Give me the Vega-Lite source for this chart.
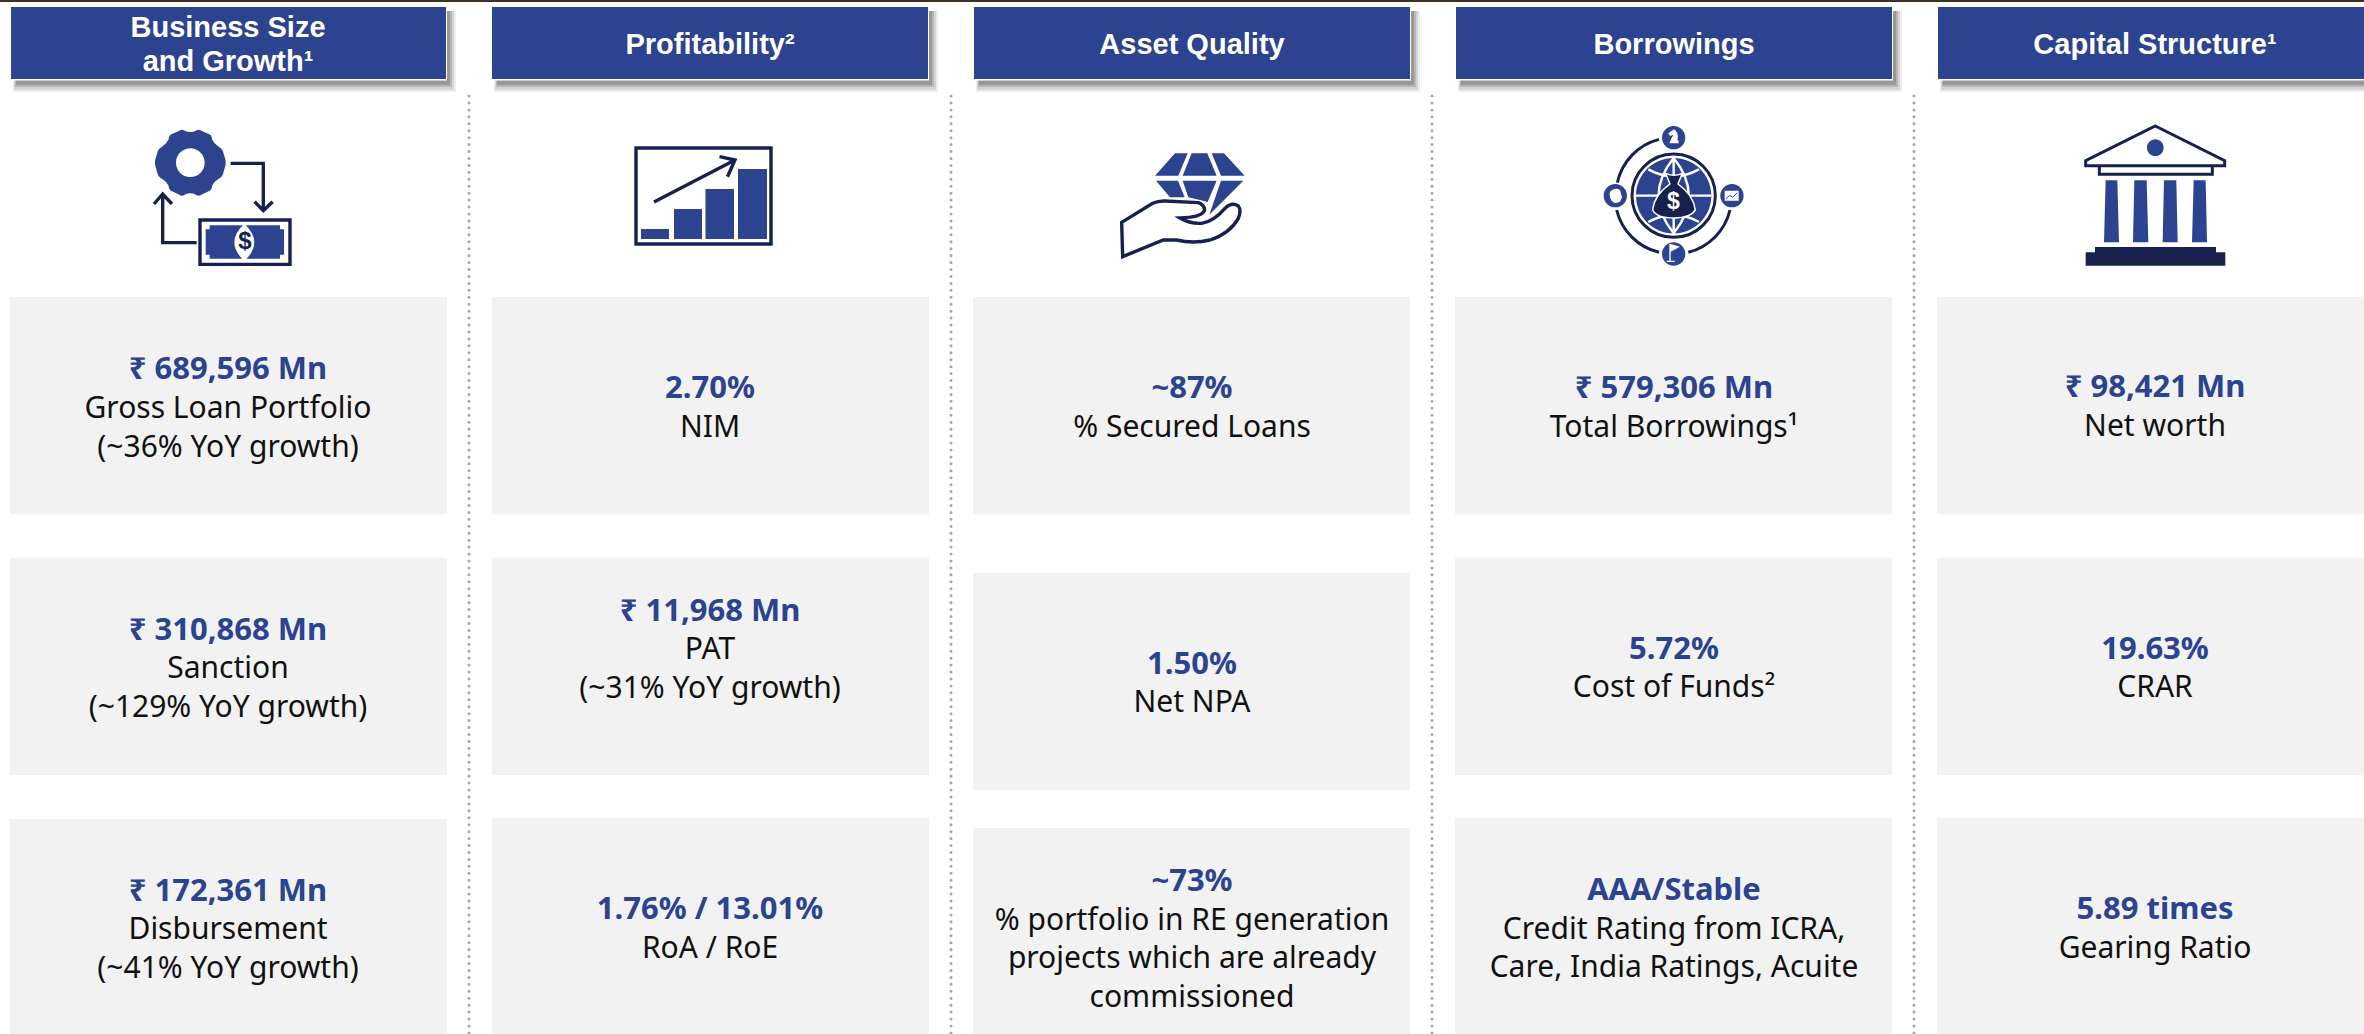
{
"$schema":"https://vega.github.io/schema/vega-lite/v6.json",
"width":2364,"height":1034,"padding":0,"autosize":{"type":"none"},"background":"#ffffff",
"view":{"stroke":null},
"config":{"axis":{"grid":false}},
"datasets":{
"strip":[{"x":0,"x2":2364,"y":0,"y2":2}],
"headers":[
{"name":"Business Size and Growth","x":11,"x2":446,"y":7,"y2":79},
{"name":"Profitability","x":492,"x2":928,"y":7,"y2":79},
{"name":"Asset Quality","x":974,"x2":1410,"y":7,"y2":79},
{"name":"Borrowings","x":1456,"x2":1892,"y":7,"y2":79},
{"name":"Capital Structure","x":1938,"x2":2364,"y":7,"y2":79}],
"dividers":[{"x":469,"y":96,"y2":1034},{"x":951,"y":96,"y2":1034},{"x":1432,"y":96,"y2":1034},{"x":1914,"y":96,"y2":1034}],
"cards":[
{"x":10,"x2":447,"y":297,"y2":514},{"x":10,"x2":447,"y":558,"y2":775},{"x":10,"x2":447,"y":819,"y2":1034},
{"x":492,"x2":929,"y":297,"y2":514},{"x":492,"x2":929,"y":558,"y2":775},{"x":492,"x2":929,"y":818,"y2":1034},
{"x":973,"x2":1410,"y":297,"y2":514},{"x":973,"x2":1410,"y":573,"y2":790},{"x":973,"x2":1410,"y":828,"y2":1034},
{"x":1455,"x2":1892,"y":297,"y2":514},{"x":1455,"x2":1892,"y":558,"y2":775},{"x":1455,"x2":1892,"y":818,"y2":1034},
{"x":1937,"x2":2364,"y":297,"y2":514},{"x":1937,"x2":2364,"y":558,"y2":775},{"x":1937,"x2":2364,"y":818,"y2":1034}],
"texts":[
{"role":"header","t":"Business Size","x":228,"y":27},
{"role":"header","t":"and Growth¹","x":228,"y":61},
{"role":"header","t":"Profitability²","x":710,"y":44},
{"role":"header","t":"Asset Quality","x":1192,"y":44},
{"role":"header","t":"Borrowings","x":1674,"y":44},
{"role":"header","t":"Capital Structure¹","x":2155,"y":44},
{"role":"value","t":"₹ 689,596 Mn","x":228,"y":368},
{"role":"label","t":"Gross Loan Portfolio","x":228,"y":407},
{"role":"label","t":"(~36% YoY growth)","x":228,"y":446},
{"role":"value","t":"₹ 310,868 Mn","x":228,"y":629},
{"role":"label","t":"Sanction","x":228,"y":667},
{"role":"label","t":"(~129% YoY growth)","x":228,"y":706},
{"role":"value","t":"₹ 172,361 Mn","x":228,"y":890},
{"role":"label","t":"Disbursement","x":228,"y":928},
{"role":"label","t":"(~41% YoY growth)","x":228,"y":967},
{"role":"value","t":"2.70%","x":710,"y":387},
{"role":"label","t":"NIM","x":710,"y":426},
{"role":"value","t":"₹ 11,968 Mn","x":710,"y":610},
{"role":"label","t":"PAT","x":710,"y":648},
{"role":"label","t":"(~31% YoY growth)","x":710,"y":687},
{"role":"value","t":"1.76% / 13.01%","x":710,"y":908},
{"role":"label","t":"RoA / RoE","x":710,"y":947},
{"role":"value","t":"~87%","x":1192,"y":387},
{"role":"label","t":"% Secured Loans","x":1192,"y":426},
{"role":"value","t":"1.50%","x":1192,"y":663},
{"role":"label","t":"Net NPA","x":1192,"y":701},
{"role":"value","t":"~73%","x":1192,"y":880},
{"role":"label","t":"% portfolio in RE generation","x":1192,"y":919},
{"role":"label","t":"projects which are already","x":1192,"y":957},
{"role":"label","t":"commissioned","x":1192,"y":996},
{"role":"value","t":"₹ 579,306 Mn","x":1674,"y":387},
{"role":"label","t":"Total Borrowings¹","x":1674,"y":426},
{"role":"value","t":"5.72%","x":1674,"y":648},
{"role":"label","t":"Cost of Funds²","x":1674,"y":686},
{"role":"value","t":"AAA/Stable","x":1674,"y":889},
{"role":"label","t":"Credit Rating from ICRA,","x":1674,"y":928},
{"role":"label","t":"Care, India Ratings, Acuite","x":1674,"y":966},
{"role":"value","t":"₹ 98,421 Mn","x":2155,"y":386},
{"role":"label","t":"Net worth","x":2155,"y":425},
{"role":"value","t":"19.63%","x":2155,"y":648},
{"role":"label","t":"CRAR","x":2155,"y":686},
{"role":"value","t":"5.89 times","x":2155,"y":908},
{"role":"label","t":"Gearing Ratio","x":2155,"y":947},
{"role":"billSign","t":"$","x":245,"y":242},
{"role":"bagSign","t":"$","x":1673.5,"y":202}
],
"icons":[
{"icon":"growth","x":140,"y":120},
{"icon":"profit","x":634,"y":146},
{"icon":"quality","x":1110,"y":140},
{"icon":"borrow","x":1600,"y":120},
{"icon":"capital","x":2070,"y":120}]
},
"encoding":{
"x":{"field":"x","type":"quantitative","axis":null,"scale":{"domain":[0,2364],"nice":false,"zero":false}},
"y":{"field":"y","type":"quantitative","axis":null,"scale":{"domain":[1034,0],"nice":false,"zero":false}}
},
"layer":[
{"data":{"name":"strip"},"mark":{"type":"rect","fill":"#3b3320"},"encoding":{"x2":{"field":"x2"},"y2":{"field":"y2"}}},
{"data":{"name":"headers"},"mark":{"type":"rect","fill":"#000000","opacity":0.07,"xOffset":2,"x2Offset":10,"yOffset":4,"y2Offset":13},"encoding":{"x2":{"field":"x2"},"y2":{"field":"y2"}}},
{"data":{"name":"headers"},"mark":{"type":"rect","fill":"#000000","opacity":0.1,"xOffset":3,"x2Offset":8,"yOffset":4,"y2Offset":11},"encoding":{"x2":{"field":"x2"},"y2":{"field":"y2"}}},
{"data":{"name":"headers"},"mark":{"type":"rect","fill":"#000000","opacity":0.14,"xOffset":4,"x2Offset":6,"yOffset":4,"y2Offset":8},"encoding":{"x2":{"field":"x2"},"y2":{"field":"y2"}}},
{"data":{"name":"headers"},"mark":{"type":"rect","fill":"#000000","opacity":0.16,"xOffset":5,"x2Offset":4,"yOffset":4,"y2Offset":6},"encoding":{"x2":{"field":"x2"},"y2":{"field":"y2"}}},
{"data":{"name":"headers"},"mark":{"type":"rect","fill":"#ffffff","xOffset":0,"x2Offset":1,"yOffset":0,"y2Offset":1.5},"encoding":{"x2":{"field":"x2"},"y2":{"field":"y2"}}},
{"data":{"name":"headers"},"mark":{"type":"rect","fill":"#2c4390"},"encoding":{"x2":{"field":"x2"},"y2":{"field":"y2"}}},
{"data":{"name":"dividers"},"mark":{"type":"rule","stroke":"#a6a6a6","strokeWidth":3,"strokeCap":"round","strokeDash":[0.01,6.93]},"encoding":{"y2":{"field":"y2"}}},
{"data":{"name":"cards"},"mark":{"type":"rect","fill":"#f2f2f2"},"encoding":{"x2":{"field":"x2"},"y2":{"field":"y2"}}},

{"data":{"name":"icons"},"transform":[{"filter":"datum.icon=='growth'"}],"mark":{"type":"point","filled":true,"opacity":1,"fill":"#2c4390","strokeWidth":0,"size":0.4444,"shape":"M118 32Q126 26 134 32Q151 40 168 32Q176 26 184 32L206 42Q216 46 216 58Q222 72 236 80Q248 86 250 98L256 118Q258 128 256 138L250 158Q248 170 236 176Q222 184 216 198Q216 210 206 214L184 224Q176 230 168 224Q151 216 134 224Q126 230 118 224L96 214Q86 210 86 198Q80 184 66 176Q54 170 52 158L46 138Q44 128 46 118L52 98Q54 86 66 80Q80 72 86 58Q86 46 96 42ZM194 128A43 43 0 1 0 108 128A43 43 0 1 0 194 128ZM209 316H420V328H432V404H420V416H209V404H197V328H209Z"}},
{"data":{"name":"icons"},"transform":[{"filter":"datum.icon=='growth'"}],"mark":{"type":"point","filled":true,"opacity":1,"fill":"#ffffff","strokeWidth":0,"size":0.4444,"shape":"M313 311Q373 367 313 423Q253 367 313 311Z"}},
{"data":{"name":"icons"},"transform":[{"filter":"datum.icon=='growth'"}],"mark":{"type":"point","filled":false,"opacity":1,"stroke":"#16214d","strokeWidth":3.4,"size":0.4444,"shape":"M272 130H370V272M344 245L370 272L398 245M170 368H68V222M42 252L68 222L96 252M180 300H450V433H180Z"}},

{"data":{"name":"icons"},"transform":[{"filter":"datum.icon=='profit'"}],"mark":{"type":"point","filled":true,"opacity":1,"fill":"#2c4390","strokeWidth":0,"size":4,"shape":"M7 83H35V93H7ZM40 63H68V93H40ZM71.5 43H100V93H71.5ZM104 23H133V93H104Z"}},
{"data":{"name":"icons"},"transform":[{"filter":"datum.icon=='profit'"}],"mark":{"type":"point","filled":false,"opacity":1,"stroke":"#16214d","strokeWidth":3.4,"size":4,"shape":"M2 2H137V98H2ZM20 56L101 14M85.5 10.7L101 14L93.5 30.7"}},

{"data":{"name":"icons"},"transform":[{"filter":"datum.icon=='quality'"}],"mark":{"type":"point","filled":true,"opacity":1,"fill":"#2c4390","strokeWidth":0,"size":0.4444,"shape":"M195 40H233L205 107H135ZM245 40H292L320 107H218ZM305 40H342L404 107H333ZM138 122H204L224 172L180 172ZM218 122H320L293 186L270 180L235 172ZM333 122H400L298 224Z"}},
{"data":{"name":"icons"},"transform":[{"filter":"datum.icon=='quality'"}],"mark":{"type":"point","filled":true,"opacity":1,"fill":"#ffffff","stroke":"#16214d","strokeWidth":3.4,"size":0.4444,"shape":"M35 247L128 190Q145 182 165 183L265 188Q285 195 283 212Q275 232 210 234Q240 252 275 250Q310 245 345 205Q365 185 385 198Q395 210 385 235Q360 280 300 300Q250 312 200 300L160 300L38 350Z"}},

{"data":{"name":"icons"},"transform":[{"filter":"datum.icon=='borrow'"}],"mark":{"type":"point","filled":true,"opacity":1,"fill":"#2c4390","strokeWidth":0,"size":0.4444,"shape":"M108 227A113 113 0 1 1 334 227A113 113 0 1 1 108 227ZM186 53A35 35 0 1 1 256 53A35 35 0 1 1 186 53ZM11 227A35 35 0 1 1 81 227A35 35 0 1 1 11 227ZM361 227A35 35 0 1 1 431 227A35 35 0 1 1 361 227ZM186 402A35 35 0 1 1 256 402A35 35 0 1 1 186 402Z"}},
{"data":{"name":"icons"},"transform":[{"filter":"datum.icon=='borrow'"}],"mark":{"type":"point","filled":false,"opacity":1,"stroke":"#16214d","strokeWidth":3,"size":0.4444,"shape":"M96 227A125 125 0 1 1 346 227A125 125 0 1 1 96 227ZM177 58A172 172 0 0 0 52 188M50 270A172 172 0 0 0 177 397M265 397A172 172 0 0 0 390 270"}},
{"data":{"name":"icons"},"transform":[{"filter":"datum.icon=='borrow'"}],"mark":{"type":"point","filled":false,"opacity":1,"stroke":"#ffffff","strokeWidth":2.4,"size":0.4444,"shape":"M108 227H334M221 114V340M221 114Q130 227 221 340M221 114Q312 227 221 340M145 148Q221 190 297 148M145 306Q221 264 297 306"}},
{"data":{"name":"icons"},"transform":[{"filter":"datum.icon=='borrow'"}],"mark":{"type":"point","filled":true,"opacity":1,"fill":"#16214d","stroke":"#ffffff","strokeWidth":1.5,"size":0.4444,"shape":"M197 160Q222 172 247 160L234 192Q280 225 286 270Q272 294 222 294Q170 294 158 270Q163 225 210 192Z"}},
{"data":{"name":"icons"},"transform":[{"filter":"datum.icon=='borrow'"}],"mark":{"type":"point","filled":true,"opacity":1,"fill":"#ffffff","strokeWidth":0,"size":0.4444,"shape":"M208 70H236V62L232 60Q238 40 222 28L205 40L210 48L220 44L212 60ZM30 215Q45 200 60 210L66 232L60 245L45 250Q25 240 30 215ZM374 212H416V242H374ZM208 372H212V422H224V426H200V422H208ZM212 372L240 380L212 395Z"}},
{"data":{"name":"icons"},"transform":[{"filter":"datum.icon=='borrow'"}],"mark":{"type":"point","filled":false,"opacity":1,"stroke":"#2c4390","strokeWidth":1,"size":0.4444,"shape":"M378 236L390 226L398 232L412 218"}},

{"data":{"name":"icons"},"transform":[{"filter":"datum.icon=='capital'"}],"mark":{"type":"point","filled":false,"opacity":1,"stroke":"#16214d","strokeWidth":3,"size":0.4444,"shape":"M256 18L464 122V137H47V122ZM88 137V163H427V137"}},
{"data":{"name":"icons"},"transform":[{"filter":"datum.icon=='capital'"}],"mark":{"type":"point","filled":true,"opacity":1,"fill":"#2c4390","strokeWidth":0,"size":0.4444,"shape":"M231 83A25 25 0 1 1 281 83A25 25 0 1 1 231 83ZM107 181H142L147 367H102ZM193 181H230L235 367H189ZM282 181H319L323 367H278ZM371 181H407L411 367H366Z"}},
{"data":{"name":"icons"},"transform":[{"filter":"datum.icon=='capital'"}],"mark":{"type":"point","filled":true,"opacity":1,"fill":"#16214d","strokeWidth":0,"size":0.4444,"shape":"M75 381H438V397H466V437H47V397H75Z"}},

{"data":{"name":"texts"},"transform":[{"filter":"datum.role=='header'"}],"mark":{"type":"text","font":"Liberation Sans","fontWeight":"bold","fontSize":29,"fill":"#ffffff","align":"center","baseline":"middle","dy":0.5},"encoding":{"text":{"field":"t"}}},
{"data":{"name":"texts"},"transform":[{"filter":"datum.role=='value'"}],"mark":{"type":"text","font":"Noto Sans","fontWeight":"bold","fontSize":31,"fill":"#2c4390","align":"center","baseline":"middle","dy":1.5},"encoding":{"text":{"field":"t"}}},
{"data":{"name":"texts"},"transform":[{"filter":"datum.role=='label'"}],"mark":{"type":"text","font":"Noto Sans","fontSize":30,"fill":"#111111","align":"center","baseline":"middle","dy":1.5},"encoding":{"text":{"field":"t"}}},
{"data":{"name":"texts"},"transform":[{"filter":"datum.role=='billSign'"}],"mark":{"type":"text","font":"Liberation Sans","fontWeight":"bold","fontSize":24,"fill":"#16214d","align":"center","baseline":"middle"},"encoding":{"text":{"field":"t"}}},
{"data":{"name":"texts"},"transform":[{"filter":"datum.role=='bagSign'"}],"mark":{"type":"text","font":"Liberation Sans","fontWeight":"bold","fontSize":23,"fill":"#ffffff","align":"center","baseline":"middle"},"encoding":{"text":{"field":"t"}}}
]
}
